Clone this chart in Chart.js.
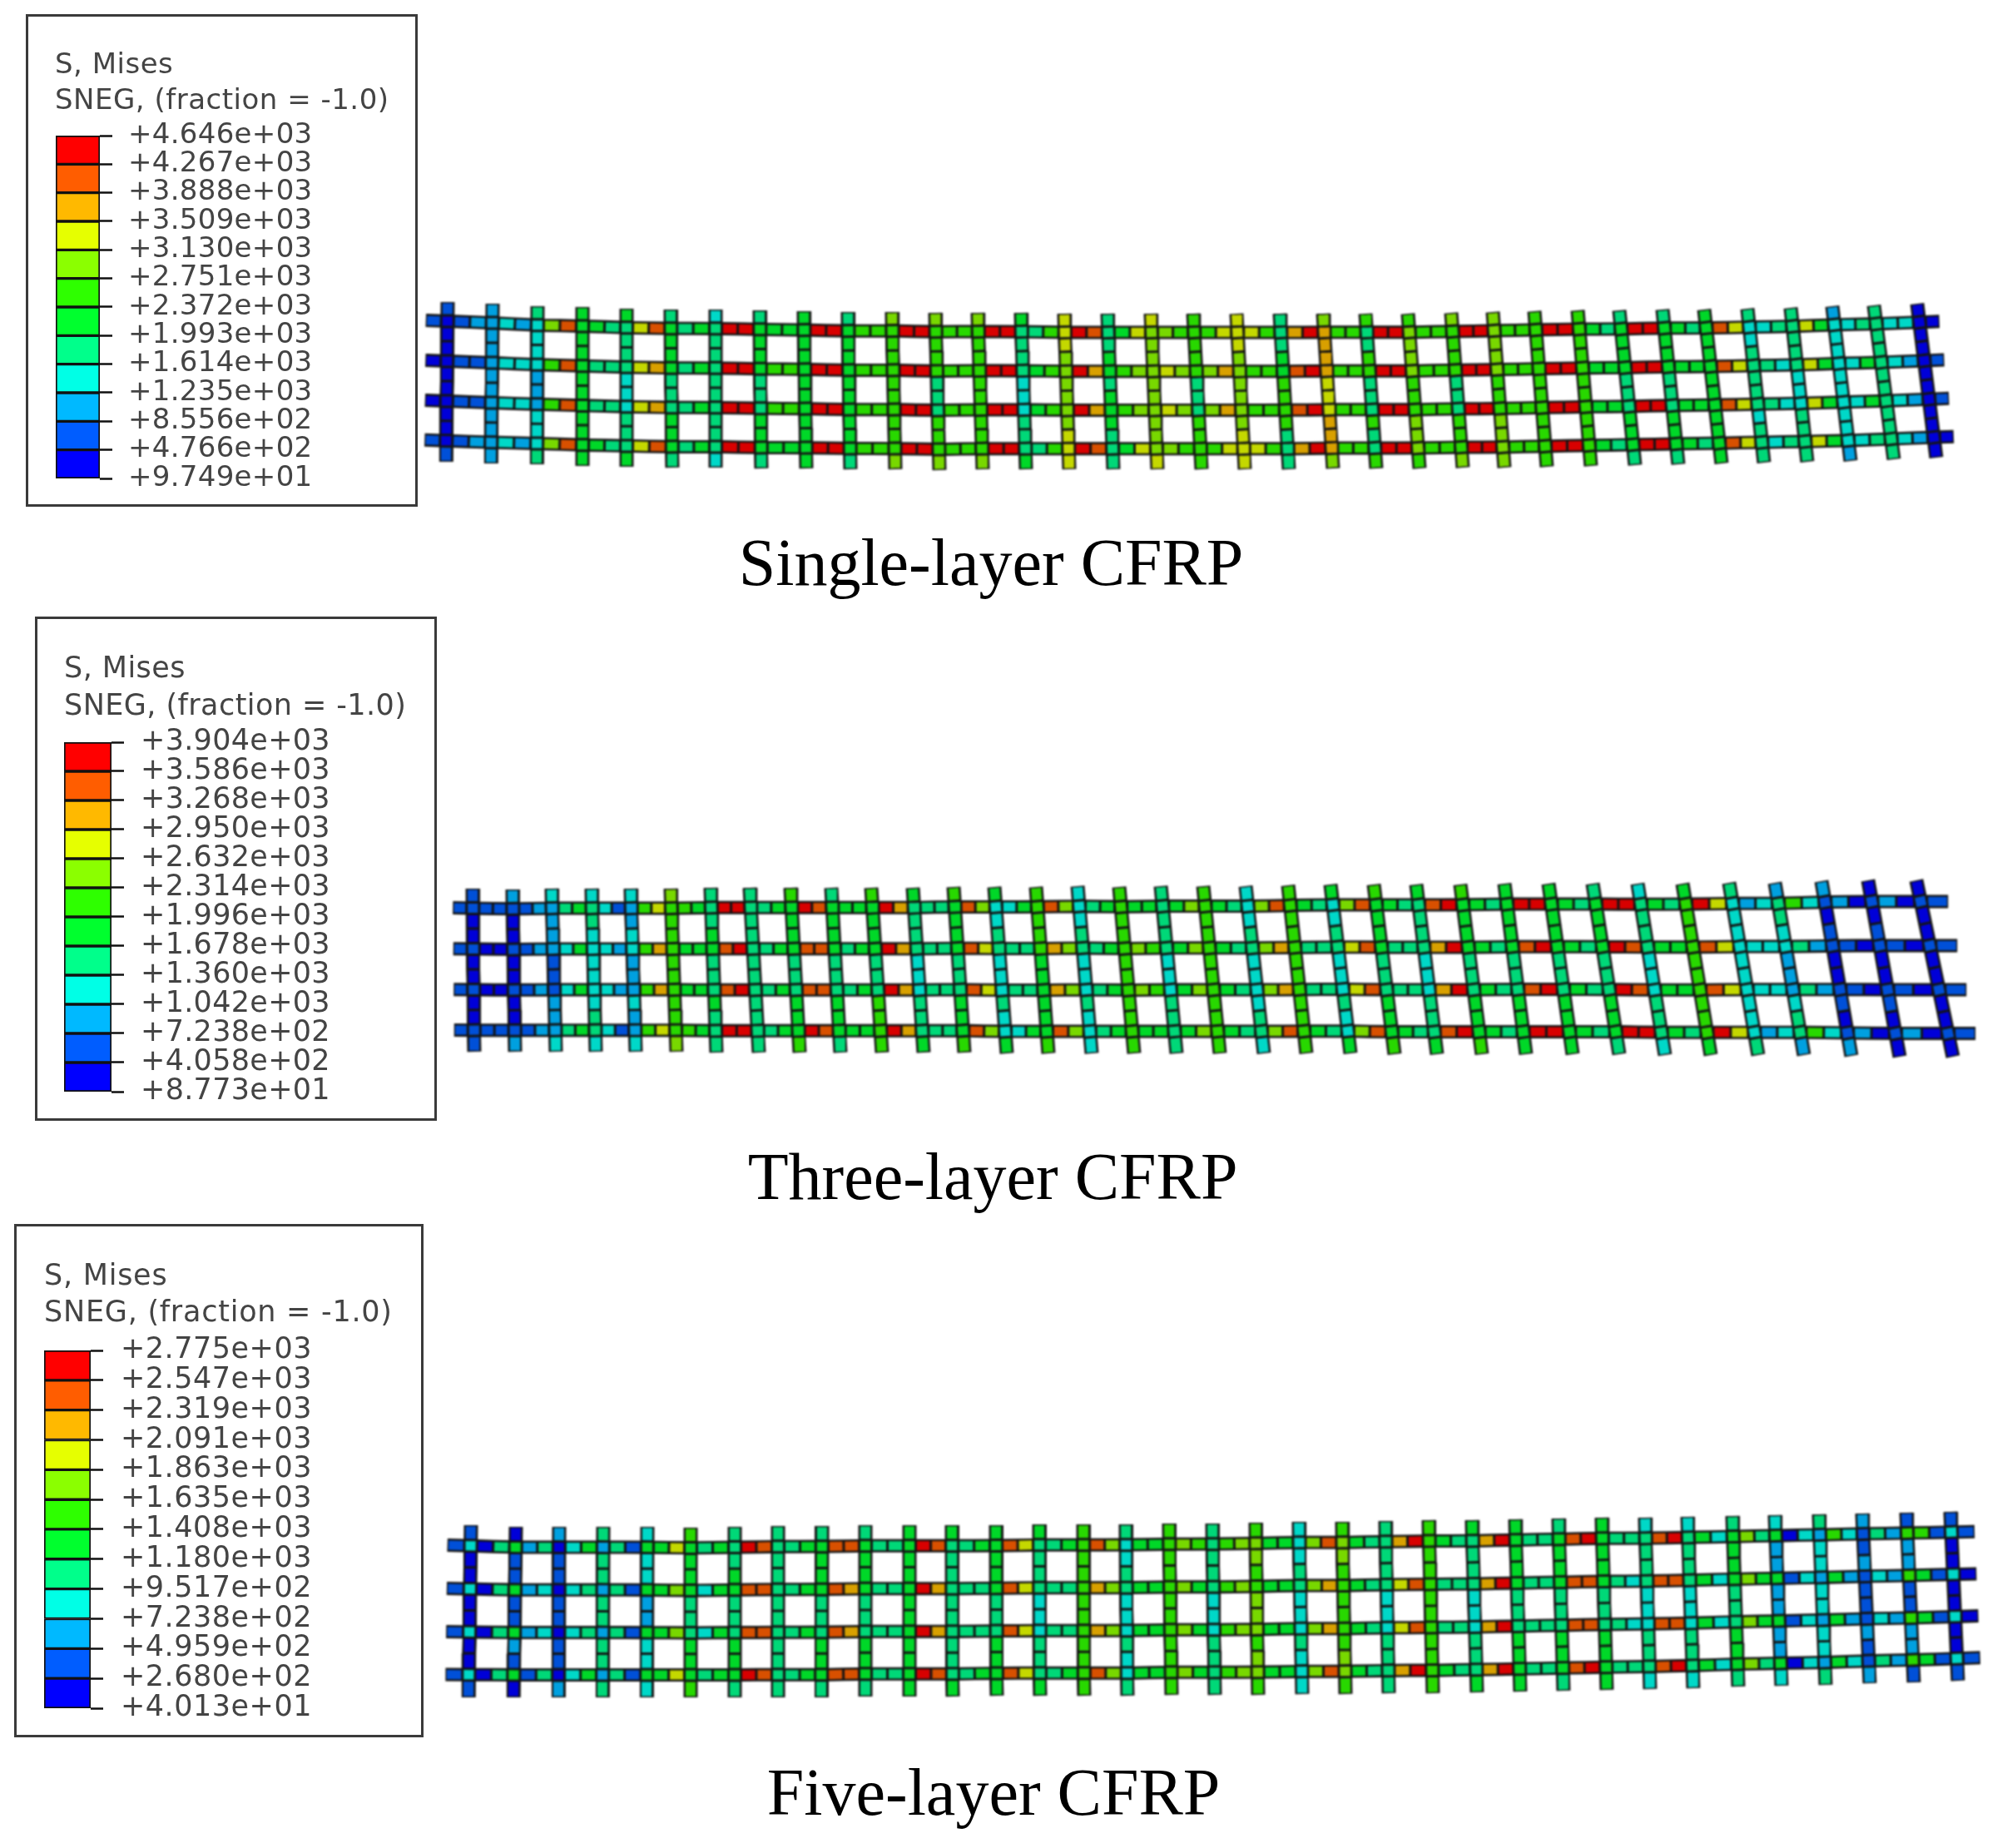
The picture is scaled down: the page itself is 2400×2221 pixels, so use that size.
<!DOCTYPE html>
<html>
<head>
<meta charset="utf-8">
<title>CFRP grid Mises stress</title>
<script src="https://cdn.jsdelivr.net/npm/chart.js@4/dist/chart.umd.min.js"></script>
<style>
  body { margin: 0; background: #fff; }
  #page { position: relative; width: 2400px; height: 2221px; overflow: hidden; background: #fff; }
  #page canvas { position: absolute; }
  .box { position: absolute; box-sizing: border-box; border: 3px solid #3a3a3a; }
  .head { position: absolute; font-family: "DejaVu Sans"; color: #444; white-space: nowrap; filter: blur(0.5px); }
  .caption { position: absolute; transform: translateX(-50%); white-space: nowrap; font: 80px "Liberation Serif"; line-height: 80px; color: #000; }
</style>
</head>
<body>
<div id="page"></div>
<script>
// Legend tick labels, top to bottom
const p1Labels = ['+4.646e+03','+4.267e+03','+3.888e+03','+3.509e+03','+3.130e+03','+2.751e+03','+2.372e+03','+1.993e+03','+1.614e+03','+1.235e+03','+8.556e+02','+4.766e+02','+9.749e+01'];
const p2Labels = ['+3.904e+03','+3.586e+03','+3.268e+03','+2.950e+03','+2.632e+03','+2.314e+03','+1.996e+03','+1.678e+03','+1.360e+03','+1.042e+03','+7.238e+02','+4.058e+02','+8.773e+01'];
const p3Labels = ['+2.775e+03','+2.547e+03','+2.319e+03','+2.091e+03','+1.863e+03','+1.635e+03','+1.408e+03','+1.180e+03','+9.517e+02','+7.238e+02','+4.959e+02','+2.680e+02','+4.013e+01'];
const legendTitles = ['S, Mises', 'SNEG, (fraction = -1.0)'];
const captions = ['Single-layer CFRP', 'Three-layer CFRP', 'Five-layer CFRP'];

// Deformed shape: ends of the 35 cross bars
const p1XTop = [538,592,646,700,753,806,860,913,966,1019,1072,1124,1175,1227,1279,1331,1383,1434,1486,1538,1590,1641,1692,1744,1794,1844,1896,1946,1998,2048,2100,2152,2202,2252,2304];
const p1XBot = [536,590,645,700,753,808,860,915,969,1022,1076,1129,1181,1233,1285,1338,1391,1444,1496,1549,1602,1654,1706,1758,1808,1859,1912,1965,2017,2069,2120,2172,2224,2276,2327];
const p1YTop = [363,365,368,369,371,372,372,373,374,375,375,376,376,376,377,377,377,377,377,377,377,377,377,376,375,374,373,373,372,372,371,370,368,367,365];
const p1YBot = [555,557,558,560,561,562,562,563,563,564,564,565,564,564,564,564,564,564,564,564,563,563,563,562,562,561,560,559,558,557,556,555,554,552,550];

const p2XTop = [568,616,663,711,758,806,854,901,950,999,1047,1097,1146,1195,1245,1295,1345,1395,1446,1497,1548,1599,1651,1702,1755,1808,1861,1914,1968,2022,2078,2133,2189,2245,2303];
const p2XBot = [570,619,668,716,764,813,861,912,961,1010,1060,1110,1159,1210,1260,1312,1363,1414,1466,1519,1570,1623,1676,1727,1781,1834,1890,1946,2001,2056,2113,2168,2225,2283,2347];
const p2YTop = [1068,1069,1068,1068,1068,1068,1067,1067,1067,1067,1067,1067,1066,1066,1066,1065,1066,1065,1065,1065,1064,1063,1063,1063,1063,1062,1062,1062,1062,1062,1061,1061,1059,1058,1058];
const p2YBot = [1264,1264,1264,1264,1264,1264,1265,1265,1265,1265,1265,1265,1265,1266,1266,1266,1266,1266,1266,1266,1266,1266,1267,1267,1267,1267,1267,1267,1268,1268,1268,1268,1269,1270,1270];

const p3XTop = [566,620,672,725,778,830,883,935,988,1040,1093,1144,1197,1249,1302,1353,1405,1457,1509,1561,1613,1665,1717,1769,1821,1873,1925,1977,2028,2082,2133,2186,2238,2291,2344];
const p3XBot = [563,617,671,724,777,830,883,935,987,1040,1093,1145,1198,1250,1303,1355,1408,1460,1512,1565,1617,1669,1722,1775,1827,1879,1931,1983,2035,2089,2141,2194,2247,2300,2353];
const p3YTop = [1833,1835,1835,1835,1835,1836,1835,1834,1834,1833,1833,1833,1833,1832,1832,1832,1831,1831,1830,1829,1829,1828,1827,1827,1826,1825,1824,1824,1823,1822,1821,1820,1819,1818,1817];
const p3YBot = [2040,2040,2040,2040,2040,2040,2040,2040,2040,2039,2039,2039,2038,2038,2038,2038,2037,2037,2037,2036,2036,2035,2035,2034,2033,2032,2031,2030,2029,2027,2026,2025,2023,2022,2020];

// Legend band of each element, 0 = lowest (blue) ... b = highest (red).
// Rows: end stub, then two elements per bay, then end stub
const p1Rows = [
  '1 12 32 7a 54 8a 45 bb 55 bb 66 bb 66 bb 46 ba 58 76 68 86 9b 66 bb 66 bb 66 bb 54 bb 54 a8 34 85 34 33 0',
  '0 11 33 6a 44 89 45 bb 66 bb 66 bb 66 bb 56 b9 67 87 79 66 ab 66 bb 66 bb 66 bb 55 bb 55 a8 43 85 35 32 1',
  '0 11 33 6a 44 89 45 bb 66 bb 66 bb 66 bb 56 b9 67 87 79 66 ab 66 bb 66 bb 66 bb 55 bb 55 a8 43 85 35 32 1',
  '1 12 32 7a 54 8a 45 bb 55 bb 66 bb 66 bb 46 ba 58 76 68 86 9b 66 bb 66 bb 66 bb 54 bb 54 a8 34 85 34 32 0'
];
const p2Rows = [
  '1 11 12 45 31 68 65 bb 45 ba 55 b9 44 a7 35 a7 45 55 57 54 7a 54 7a 54 ab 54 bb 54 bb 54 b8 23 63 20 20 1',
  '1 00 12 35 32 69 55 ab 45 aa 45 b9 44 a8 44 97 45 76 57 54 79 44 8a 44 9b 54 ab 54 ba 55 a8 33 42 10 10 1',
  '1 00 12 35 32 69 55 ab 45 aa 45 b9 44 a8 44 97 45 76 57 54 79 44 8a 44 9b 54 ab 54 ba 55 a8 33 42 10 10 1',
  '1 11 12 45 31 68 65 bb 45 ba 55 b9 44 a7 35 a7 45 55 57 54 7a 54 7a 54 ab 54 bb 54 bb 54 b8 23 63 20 20 1'
];
const p3Rows = [
  '1 04 24 35 41 58 45 ba 45 aa 44 ba 45 a8 45 a7 55 76 67 55 7a 54 9b 54 9b 44 ab 44 ab 53 74 03 63 42 61 1',
  '1 04 23 34 41 57 35 aa 45 a9 44 b9 44 a8 44 97 55 75 67 55 79 54 8a 44 9b 44 aa 43 aa 53 75 13 52 32 51 0',
  '1 04 23 34 41 57 35 aa 45 a9 44 b9 44 a8 44 97 55 75 67 55 79 54 8a 44 9b 44 aa 43 aa 53 75 13 52 32 51 0',
  '1 04 14 35 41 58 45 ba 45 aa 44 ba 45 a8 45 a7 55 75 67 55 7a 54 9b 54 9b 44 ab 44 ab 53 74 03 53 42 51 1'
];
// Cross bars: top stub, two elements per bay (3 bays), bottom stub
const p1Bars = ['10000001','22222222','43322334','55555555','54433445','45544554','34444443','45544554','55555555','45555554','76666667','76644667','76666667','54433445','88777788','44545544','87777778','66644666','88777788','44566644','79988997','64644646','67766776','76644667','77766777','66666666','66666666','45544554','45544554','55555555','43444344','44433444','23333332','44444444','00000000'];
const p2Bars = ['10000001','20000002','32211223','34333343','32322323','76666667','44544544','44444444','65544556','45544554','65544666','54433445','65544556','53433435','66655556','33433433','66666666','44433444','66666666','33433343','66666666','53433435','65544556','54433445','65544556','55544555','55544555','45544554','34433443','56666665','43333334','24322342','20100102','00100100','00000000'];
const p3Bars = ['10000001','01111210','21111112','44444444','33322333','65544556','44544554','44444444','45544554','45544554','55555555','54444445','55544555','54433445','66666666','43433434','66666666','44433444','67677676','33433433','67666676','44433444','66666666','54433445','55544555','45544554','55544555','34433443','34433443','45544554','32222223','43333334','21211212','12211221','10000001'];
// Crossings that differ from their bar, as [bar index, band]
const p1Crossings = [];
const p2Crossings = [[0,'1'],[1,'1'],[32,'1'],[33,'1'],[34,'1']];
const p3Crossings = [[0,'3'],[1,'5'],[2,'0'],[3,'2'],[4,'5'],[30,'5'],[31,'2'],[32,'1'],[33,'6'],[34,'3']];

// Where the four rows sit along a cross bar
const rowFractions = [0.12, 0.37, 0.62, 0.868];

const legendColors = ['#0000ff','#005dff','#00b9ff','#00ffe6','#00ff8b','#00ff2e','#2eff00','#8bff00','#e6ff00','#ffb900','#ff5d00','#ff0000'];
const meshColors = ['#0000d8','#0050d8','#00a0e0','#00d8c8','#00d878','#00d828','#28d800','#78d800','#c4d800','#d8a000','#d85000','#d80000'];

const page = document.getElementById('page');

function addCanvas(left, top, width, height) {
    const c = document.createElement('canvas');
    c.width = width;
    c.height = height;
    c.style.left = left + 'px';
    c.style.top = top + 'px';
    c.style.width = width + 'px';
    c.style.height = height + 'px';
    page.appendChild(c);
    return c;
}

function addDiv(cls, left, top, text) {
    const d = document.createElement('div');
    d.className = cls;
    d.style.left = left + 'px';
    d.style.top = top + 'px';
    d.textContent = text;
    page.appendChild(d);
    return d;
}

// Colour scale: floating bars between neighbouring contour values, ticks on the right
function drawLegend(labels, lay) {
    const box = addDiv('box', lay.box[0], lay.box[1], '');
    box.style.width = lay.box[2] + 'px';
    box.style.height = lay.box[3] + 'px';
    legendTitles.forEach((title, i) => {
        const head = addDiv('head', lay.headLeft, lay.headY[i] - lay.font * 0.6, title);
        head.style.fontSize = lay.font + 'px';
        head.style.lineHeight = lay.font * 1.2 + 'px';
        head.style.letterSpacing = lay.headSpacing + 'px';
    });

    const values = labels.map(Number).reverse();
    const shown = labels.slice().reverse();
    const pad = 24;
    const width = 350;
    const canvas = addCanvas(lay.barLeft, lay.barTop - pad, width, lay.barBottom - lay.barTop + pad * 2);
    canvas.style.filter = 'blur(0.5px)';
    new Chart(canvas, {
        type: 'bar',
        data: {
            labels: [''],
            datasets: legendColors.map((color, i) => ({
                data: [[values[i], values[i + 1]]],
                backgroundColor: color,
                borderColor: '#111',
                borderWidth: 2,
                borderSkipped: false,
                barPercentage: 1,
                categoryPercentage: 1,
                grouped: false
            }))
        },
        options: {
            responsive: false,
            animation: false,
            devicePixelRatio: 1,
            layout: { padding: { top: pad, bottom: pad, left: 0, right: 0 } },
            plugins: { legend: { display: false }, tooltip: { enabled: false } },
            scales: {
                x: { display: false },
                y: {
                    position: 'right',
                    min: values[0],
                    max: values[values.length - 1],
                    afterBuildTicks: scale => { scale.ticks = values.map(v => ({ value: v })); },
                    afterFit: scale => {
                        scale.width = width - lay.barWidth;
                        scale.paddingTop = 0;
                        scale.paddingBottom = 0;
                    },
                    grid: { drawOnChartArea: false, drawTicks: true, tickLength: 15, tickColor: '#111', tickWidth: 2.5 },
                    border: { display: false },
                    ticks: {
                        autoSkip: false,
                        maxRotation: 0,
                        padding: lay.tickPad,
                        color: '#444',
                        font: { family: 'DejaVu Sans', size: lay.font },
                        callback: (v, i) => shown[i]
                    }
                }
            }
        },
        plugins: [{
            id: 'labelSpacing',
            beforeDraw: chart => { chart.ctx.letterSpacing = lay.tickSpacing + 'px'; }
        }]
    });
}

// Two thick lines per bar: a black one below and the coloured elements on top
function barDatasets(points, codes, order) {
    const outlineWidth = order > 2 ? 16 : 17;
    const fillWidth = order > 2 ? 11 : 12;
    const fill = [];
    const colors = [];
    points.forEach((seg, i) => {
        const dx = seg[1].x - seg[0].x;
        const dy = seg[1].y - seg[0].y;
        const len = Math.hypot(dx, dy) || 1;
        const inset = 1.5;
        fill.push({ x: seg[0].x + dx / len * inset, y: seg[0].y + dy / len * inset });
        fill.push({ x: seg[1].x - dx / len * inset, y: seg[1].y - dy / len * inset });
        colors.push(meshColors[parseInt(codes[i], 16)]);
    });
    const ends = [points[0][0], points[points.length - 1][1]];
    return [
        { data: points.map(s => s[0]).concat([ends[1]]), borderColor: '#141414', borderWidth: outlineWidth, order: order + 1 },
        {
            data: fill,
            borderWidth: fillWidth,
            order: order,
            borderColor: '#141414',
            segment: {
                borderColor: ctx => ctx.p0DataIndex % 2 ? 'rgba(0,0,0,0)' : colors[ctx.p0DataIndex / 2]
            }
        }
    ];
}

function mid(a, b, t) {
    return { x: a.x + (b.x - a.x) * t, y: a.y + (b.y - a.y) * t };
}

// A bay between two crossings leaves room for the crossing and holds two elements
function bayPieces(a, b, half) {
    const len = Math.hypot(b.x - a.x, b.y - a.y);
    const from = mid(a, b, half / len);
    const to = mid(a, b, 1 - half / len);
    const centre = mid(a, b, 0.5);
    return [[from, centre], [centre, to]];
}

function drawMesh(xTop, xBot, yTop, yBot, rows, bars, crossings, lay) {
    const canvas = addCanvas(lay.left, lay.top, lay.width, lay.height);
    canvas.style.filter = 'blur(0.8px)';
    const halfBar = 7.5;
    const halfRow = 7;
    const datasets = [];
    const node = (rod, f) => ({
        x: xTop[rod] + (xBot[rod] - xTop[rod]) * f,
        y: yTop[rod] + (yBot[rod] - yTop[rod]) * f
    });

    // longitudinal rows
    rows.forEach((row, r) => {
        const codes = row.replace(/ /g, '');
        const f = rowFractions[r];
        const pieces = [];
        const last = xTop.length - 1;
        const first = node(0, f), firstNext = node(1, f);
        const lastNode = node(last, f), lastPrev = node(last - 1, f);
        const lead = mid(first, firstNext, -lay.stubLeft / (firstNext.x - first.x));
        const tail = mid(lastPrev, lastNode, 1 + lay.stubRight / (lastNode.x - lastPrev.x));
        pieces.push([lead, mid(first, firstNext, -halfBar / (firstNext.x - first.x))]);
        for (let i = 0; i < last; i++) {
            pieces.push(...bayPieces(node(i, f), node(i + 1, f), halfBar));
        }
        pieces.push([mid(lastPrev, lastNode, 1 + halfBar / (lastNode.x - lastPrev.x)), tail]);
        datasets.push(...barDatasets(pieces, codes, 3));
    });

    // cross bars, on top of the rows
    bars.forEach((bar, b) => {
        const crossing = rowFractions.map(f => node(b, f));
        const length = Math.hypot(xBot[b] - xTop[b], yBot[b] - yTop[b]);
        const off = f => node(b, f);
        const h = halfRow / length;
        const special = crossings.find(c => c[0] === b);
        const pieces = [];
        const codes = [];
        pieces.push([off(0), off(rowFractions[0] - h)]);
        codes.push(bar[0]);
        pieces.push([off(rowFractions[0] - h), off(rowFractions[0] + h)]);
        codes.push(special ? special[1] : bar[1]);
        for (let k = 0; k < 3; k++) {
            pieces.push(...bayPieces(crossing[k], crossing[k + 1], halfRow));
            codes.push(bar[1 + k * 2], bar[2 + k * 2]);
            pieces.push([off(rowFractions[k + 1] - h), off(rowFractions[k + 1] + h)]);
            codes.push(special ? special[1] : bar[2 + k * 2]);
        }
        pieces.push([off(rowFractions[3] + h), off(1)]);
        codes.push(bar[7]);
        datasets.push(...barDatasets(pieces, codes, 1));
    });

    new Chart(canvas, {
        type: 'scatter',
        data: {
            datasets: datasets.map(d => Object.assign(d, {
                showLine: true,
                pointRadius: 0,
                pointHoverRadius: 0,
                borderCapStyle: 'butt',
                borderJoinStyle: 'miter',
                tension: 0,
                clip: false
            }))
        },
        options: {
            responsive: false,
            animation: false,
            devicePixelRatio: 1,
            layout: { padding: 0 },
            plugins: { legend: { display: false }, tooltip: { enabled: false } },
            scales: {
                x: { type: 'linear', display: false, min: lay.left, max: lay.left + lay.width },
                y: { type: 'linear', display: false, reverse: true, min: lay.top, max: lay.top + lay.height }
            }
        }
    });
}

drawLegend(p1Labels, { box: [31, 17, 471, 592], headLeft: 66, barLeft: 67, barWidth: 53, barTop: 163, barBottom: 575, headY: [76, 119], font: 34, headSpacing: 0.5, tickPad: 19, tickSpacing: 0.3 });
drawLegend(p2Labels, { box: [42, 741, 483, 606], headLeft: 77, barLeft: 77, barWidth: 57, barTop: 892, barBottom: 1312, headY: [802, 847], font: 35, headSpacing: 0.43, tickPad: 20, tickSpacing: 0.3 });
drawLegend(p3Labels, { box: [17, 1471, 492, 617], headLeft: 53, barLeft: 53, barWidth: 56, barTop: 1623, barBottom: 2053, headY: [1532, 1576], font: 35, headSpacing: 0.75, tickPad: 21, tickSpacing: 0.5 });

drawMesh(p1XTop, p1XBot, p1YTop, p1YBot, p1Rows, p1Bars, p1Crossings, { left: 505, top: 340, width: 1895, height: 240, stubLeft: 26, stubRight: 24 });
drawMesh(p2XTop, p2XBot, p2YTop, p2YBot, p2Rows, p2Bars, p2Crossings, { left: 505, top: 1040, width: 1895, height: 260, stubLeft: 24, stubRight: 33 });
drawMesh(p3XTop, p3XBot, p3YTop, p3YBot, p3Rows, p3Bars, p3Crossings, { left: 505, top: 1800, width: 1895, height: 260, stubLeft: 28, stubRight: 28 });

addDiv('caption', 1191, 636, captions[0]);
addDiv('caption', 1193, 1374, captions[1]);
addDiv('caption', 1194, 2114, captions[2]);
</script>
</body>
</html>
